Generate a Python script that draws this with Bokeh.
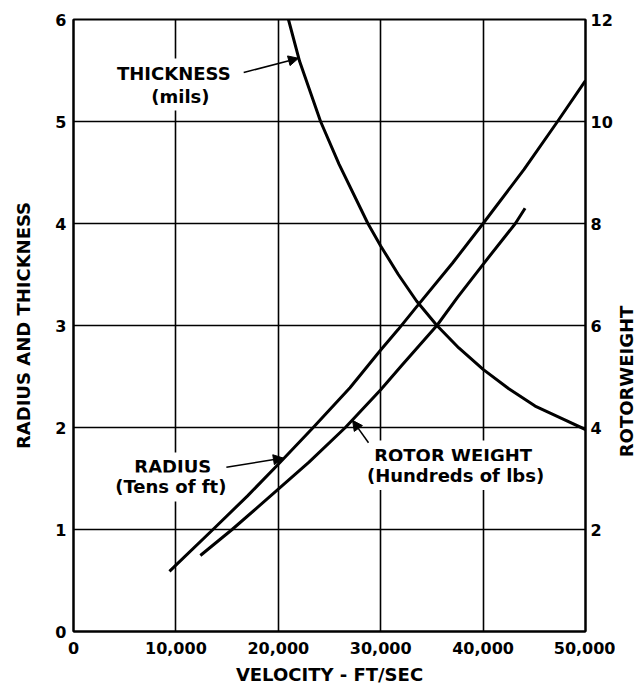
from bokeh.plotting import figure
from bokeh.layouts import row
from bokeh.models import (Range1d, LinearAxis, FixedTicker, NumeralTickFormatter,
                          Label, Arrow, NormalHead)
from bokeh.embed import file_html
from bokeh.resources import INLINE
import math

# ---- data ----
velocity_ticks = [0, 10000, 20000, 30000, 40000, 50000]
left_ticks = [0, 1, 2, 3, 4, 5, 6]
right_ticks = [2, 4, 6, 8, 10, 12]

radius_v = [9370, 10000, 13620, 17000, 20000, 23410, 27000, 30000, 31700,
            33400, 37000, 40000, 44000, 47270, 50000]
radius = [0.59, 0.65, 1.00, 1.33, 1.64, 2.00, 2.39, 2.76, 2.96,
          3.17, 3.61, 4.00, 4.53, 5.00, 5.40]

thickness_v = [20990, 22080, 24130, 25940, 28750, 30000, 31720, 33500,
               35490, 37630, 40000, 42510, 45080, 47660, 50000]
thickness = [6.00, 5.59, 5.00, 4.58, 4.00, 3.78, 3.50, 3.24,
             3.00, 2.78, 2.57, 2.38, 2.21, 2.09, 1.98]

rotor_v = [12390, 15490, 20000, 23000, 26550, 30000, 32070, 35490, 37500,
           40000, 43150, 44100]
rotor_weight = [1.49, 2.00, 2.79, 3.32, 4.00, 4.74, 5.22, 6.00, 6.55,
                7.20, 8.00, 8.30]

FONT = "DejaVu Sans"

p = figure(frame_width=512, frame_height=612,
           min_border_left=73, min_border_top=19,
           min_border_right=27, min_border_bottom=63,
           x_range=Range1d(0, 50000), y_range=Range1d(0, 6),
           output_backend="svg", toolbar_location=None)
p.extra_y_ranges = {"w": Range1d(0, 12)}

p.outline_line_color = "black"
p.outline_line_width = 2
p.outline_line_alpha = 1

# grid
p.xgrid.ticker = FixedTicker(ticks=velocity_ticks[1:-1])
p.ygrid.ticker = FixedTicker(ticks=left_ticks[1:-1])
for g in (p.xgrid, p.ygrid):
    g.grid_line_color = "black"
    g.grid_line_width = 1.6
    g.grid_line_alpha = 1

def style_axis(ax, standoff, title, title_standoff):
    ax.axis_line_color = "black"
    ax.axis_line_width = 2
    ax.major_tick_out = 0
    ax.major_tick_in = 0
    ax.minor_tick_out = 0
    ax.minor_tick_in = 0
    ax.major_label_text_font = FONT
    ax.major_label_text_font_style = "bold"
    ax.major_label_text_font_size = "16px"
    ax.major_label_text_color = "black"
    ax.major_label_standoff = standoff
    if title:
        ax.axis_label = title
        ax.axis_label_text_font = FONT
        ax.axis_label_text_font_style = "bold"
        ax.axis_label_text_font_size = "18px"
        ax.axis_label_text_color = "black"
        ax.axis_label_standoff = title_standoff

p.xaxis.ticker = FixedTicker(ticks=velocity_ticks)
p.xaxis.formatter = NumeralTickFormatter(format="0,0")
style_axis(p.xaxis[0], 10, "VELOCITY - FT/SEC", 7)
p.yaxis.ticker = FixedTicker(ticks=left_ticks)
style_axis(p.yaxis[0], 7, "RADIUS AND THICKNESS", 18)

rax = LinearAxis(y_range_name="w", ticker=FixedTicker(ticks=right_ticks))
style_axis(rax, 5, None, 0)
p.add_layout(rax, "right")

# curves
p.line(radius_v, radius, line_color="black", line_width=3, line_join="round")
p.line(thickness_v, thickness, line_color="black", line_width=3, line_join="round")
p.line(rotor_v, rotor_weight, y_range_name="w", line_color="black",
       line_width=3, line_join="round")

def lab(x, y, text):
    p.add_layout(Label(x=x, y=y, text=text, text_font=FONT,
                       text_font_style="bold", text_font_size="18px",
                       text_color="black", text_align="center",
                       text_baseline="middle",
                       background_fill_color="white", padding=4))

# curve labels
lab(9795, 5.475, "THICKNESS")
lab(10440, 5.25, "(mils)")
lab(9700, 1.613, "RADIUS")
lab(9500, 1.417, "(Tens of ft)")
lab(37070, 1.73, "ROTOR WEIGHT")
lab(37310, 1.53, "(Hundreds of lbs)")

# arrows
def arr(x0, y0, x1, y1):
    p.add_layout(Arrow(x_start=x0, y_start=y0, x_end=x1, y_end=y1,
                       line_color="black", line_width=1.5,
                       end=NormalHead(size=10, fill_color="black",
                                      line_color="black")))

arr(16620, 5.48, 21970, 5.62)
arr(14930, 1.61, 20500, 1.70)
arr(28810, 1.85, 27250, 2.07)

# narrow strip on the right carrying the right-axis title (reads bottom-to-top)
strip_w, strip_h = 23, 694
p2 = figure(frame_width=strip_w, frame_height=strip_h,
            min_border=0, min_border_left=0, min_border_right=0,
            min_border_top=0, min_border_bottom=0,
            x_range=Range1d(0, strip_w), y_range=Range1d(0, strip_h),
            x_axis_type=None, y_axis_type=None,
            output_backend="svg", toolbar_location=None)
p2.outline_line_color = None
p2.xgrid.visible = False
p2.ygrid.visible = False
p2.add_layout(Label(x=10.5, y=strip_h - 362, text="ROTORWEIGHT", text_font=FONT,
                    text_font_style="bold", text_font_size="18px",
                    text_color="black", text_align="center",
                    text_baseline="middle", angle=math.pi / 2))

layout = row(p, p2, spacing=0)

open("out.html", "w").write(file_html(layout, INLINE))
